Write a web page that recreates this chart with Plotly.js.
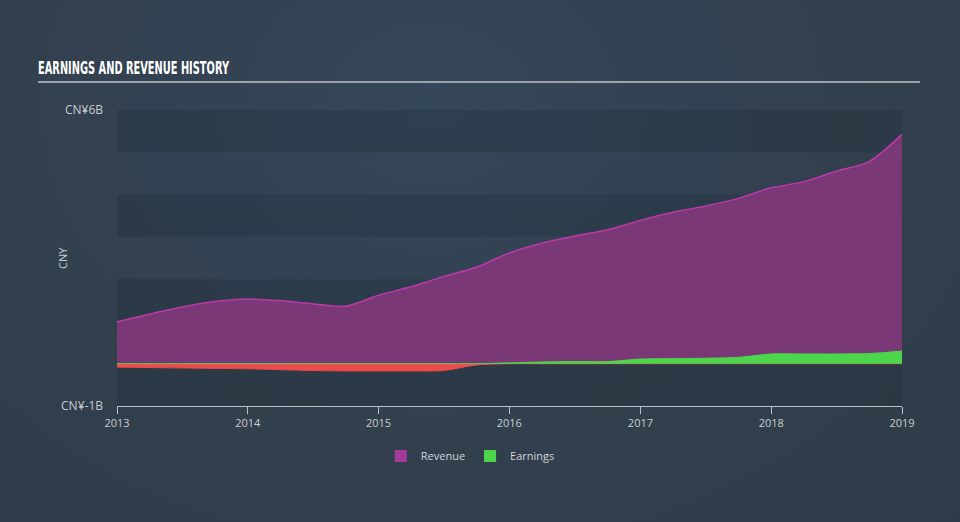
<!DOCTYPE html>
<html>
<head>
<meta charset="utf-8">
<script src="https://cdn.plot.ly/plotly-3.0.1.min.js"></script>
<style>
html,body{margin:0;padding:0;background:#333f4d;}
#chart{width:960px;height:522px;background:radial-gradient(ellipse at 45% 20%, #35475a 0%, #323f4d 60%, #2f3b48 100%);}
</style>
</head>
<body>
<div id="chart"></div>
<script>
const dates = ['2013-01-01','2013-04-01','2013-07-01','2013-10-01','2014-01-01','2014-04-01','2014-07-01','2014-10-01',
  '2015-01-01','2015-04-01','2015-07-01','2015-10-01','2016-01-01','2016-04-01','2016-07-01','2016-10-01',
  '2017-01-01','2017-04-01','2017-07-01','2017-10-01','2018-01-01','2018-04-01','2018-07-01','2018-10-01','2019-01-01'];
const revenue = [0.99,1.17,1.34,1.47,1.53,1.49,1.42,1.36,1.62,1.82,2.06,2.28,2.62,2.85,3.02,3.17,3.39,3.58,3.73,3.91,4.16,4.30,4.55,4.78,5.43];
const earnings = [-0.08,-0.09,-0.10,-0.11,-0.12,-0.14,-0.16,-0.17,-0.17,-0.17,-0.16,-0.03,0.02,0.04,0.05,0.05,0.11,0.12,0.13,0.15,0.23,0.23,0.23,0.24,0.30];
const yTickVals = [-1, 6];
const yTickText = ['CN¥-1B', 'CN¥6B'];
const xTickVals = ['2013-01-01','2014-01-01','2015-01-01','2016-01-01','2017-01-01','2018-01-01','2019-01-01'];
const xTickText = ['2013','2014','2015','2016','2017','2018','2019'];
const bands = [[5,6],[3,4],[1,2],[-1,0]];
const seriesNames = ['Revenue', 'Earnings'];
const seriesColors = ['#a33a9b', '#4cd64c'];

const scale = 1e9;
const rev = revenue.map(v => v * scale);
const earnNeg = earnings.map(v => Math.min(v, 0) * scale);
const earnPos = earnings.map(v => Math.max(v, 0) * scale);

const traces = [
  {x: dates, y: rev, name: 'Revenue', showlegend: false, type: 'scatter', mode: 'lines', fill: 'tozeroy',
   line: {color: '#b93aa9', width: 1.5, shape: 'spline', smoothing: 0.8}, fillcolor: '#7b3877', hoverinfo: 'skip'},
  {x: dates, y: earnNeg, name: 'Earnings-', showlegend: false, type: 'scatter', mode: 'lines', fill: 'tozeroy',
   line: {color: '#ef4a4a', width: 1, shape: 'spline', smoothing: 0.8}, fillcolor: '#ef4a4a', hoverinfo: 'skip'},
  {x: dates, y: earnPos, name: 'Earnings', showlegend: false, type: 'scatter', mode: 'lines', fill: 'tozeroy',
   line: {color: '#4cd64c', width: 1, shape: 'spline', smoothing: 0.8}, fillcolor: '#4cd64c', hoverinfo: 'skip'}
];
// legend entries (square swatches)
seriesNames.forEach((n, i) => traces.push({x: [null], y: [null], type: 'bar', name: n,
  marker: {color: seriesColors[i], line: {width: 0}}, hoverinfo: 'skip'}));

const shapes = bands.map(b => ({type: 'rect', xref: 'paper', yref: 'y', x0: 0, x1: 1, y0: b[0]*scale, y1: b[1]*scale,
  fillcolor: 'rgba(25,35,45,0.22)', line: {width: 0}, layer: 'below'}));
shapes.push({type: 'line', xref: 'paper', yref: 'paper', x0: -0.1006, x1: 1.0229, y0: 1.0946, y1: 1.0946,
  line: {color: '#9aa3ab', width: 2}});

const layout = {
  width: 960, height: 522,
  margin: {l: 117, r: 58, t: 110, b: 116},
  paper_bgcolor: 'rgba(0,0,0,0)', plot_bgcolor: 'rgba(0,0,0,0)',
  font: {family: '"Open Sans", Lato, sans-serif', color: '#c8cdd2', size: 11},
  showlegend: true,
  legend: {orientation: 'h', x: 0.45, xanchor: 'center', y: -0.169, yanchor: 'middle',
    font: {size: 11, color: '#d0d5da'}, bgcolor: 'rgba(0,0,0,0)', itemwidth: 30, tracegroupgap: 0},
  xaxis: {type: 'date', range: ['2013-01-01', '2019-01-01'], tickvals: xTickVals, ticktext: xTickText,
    showgrid: false, zeroline: false, showline: true, linecolor: '#b8c0c8', linewidth: 1,
    ticks: 'outside', ticklen: 7, tickcolor: '#b8c0c8', tickfont: {size: 11, color: '#c8cdd2'}, fixedrange: true},
  yaxis: {range: [-1*scale, 6*scale], tickvals: yTickVals.map(v => v*scale), ticktext: yTickText,
    showgrid: false, zeroline: true, zerolinecolor: '#a9b1b8', zerolinewidth: 1, showline: false,
    ticks: '', ticklabelstandoff: 13, tickfont: {size: 12, color: '#c8cdd2'}, fixedrange: true},
  shapes: shapes,
  annotations: [
    {text: 'EARNINGS AND REVENUE HISTORY', xref: 'paper', yref: 'paper', x: -0.1006, y: 1.145,
     xanchor: 'left', yanchor: 'middle', align: 'left', showarrow: false,
     font: {family: '"DejaVu Sans Condensed", "DejaVu Sans", sans-serif', size: 18, color: '#ffffff', weight: 'bold'}},
    {text: 'CNY', xref: 'paper', yref: 'paper', x: -0.070, y: 0.50, xanchor: 'center', yanchor: 'middle',
     textangle: -90, showarrow: false, font: {size: 11, color: '#c8cdd2'}}
  ]
};

Plotly.newPlot('chart', traces, layout, {displayModeBar: false, staticPlot: true}).then(gd => {
  const t = Array.from(gd.querySelectorAll('text.annotation-text')).find(e => e.textContent.indexOf('EARNINGS') === 0);
  if (t) {
    t.setAttribute('textLength', '191');
    t.setAttribute('lengthAdjust', 'spacingAndGlyphs');
    t.setAttribute('text-anchor', 'start');
    const box = t.getBBox();
    const svg = gd.querySelector('svg.main-svg');
    const ctm = t.getScreenCTM();
    const left = box.x * ctm.a + ctm.e - svg.getBoundingClientRect().left;
    const cur = parseFloat(t.getAttribute('x')) || 0;
    t.setAttribute('x', String(cur + (38 - left)));
  }
});
</script>
</body>
</html>
